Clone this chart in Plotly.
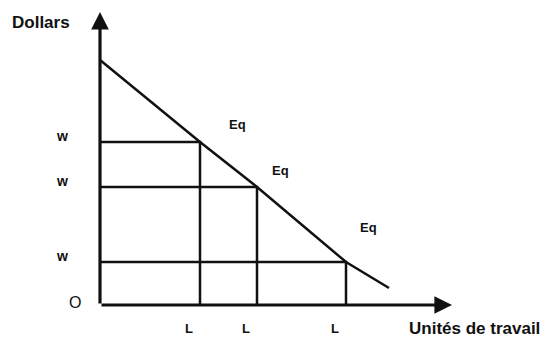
import plotly.graph_objects as go

# droite de demande de travail (unités de travail, dollars)
demand_x = [0, 10, 15.7, 24.6, 28.9]
demand_y = [24.5, 16.3, 11.8, 4.3, 1.7]

# trois équilibres : quantité L, salaire w
labour = [10, 15.7, 24.6]
wages = [16.3, 11.8, 4.3]
eq_labels = ["Eq", "Eq", "Eq"]
wage_labels = ["w", "w", "w"]
labour_labels = ["L", "L", "L"]

# décalage des étiquettes Eq par rapport au point
eq_dx = [3.7, 2.3, 2.2]
eq_dy = [1.8, 1.7, 3.5]

INK = "#111111"
FONT = "Arial, Liberation Sans, sans-serif"

fig = go.Figure()

fig.add_trace(go.Scatter(
    x=demand_x, y=demand_y, mode="lines",
    line=dict(color=INK, width=2.5), hoverinfo="skip",
))

# rectangles salaire x quantité
for L, w in zip(labour, wages):
    fig.add_trace(go.Scatter(
        x=[0, L, L], y=[w, w, 0], mode="lines",
        line=dict(color=INK, width=2.5), hoverinfo="skip",
    ))

ann = []
# axes avec flèches
ann.append(dict(x=0, y=29.3, ax=0, ay=0, xref="x", yref="y", axref="x", ayref="y",
                showarrow=True, arrowhead=2, arrowsize=1.1, arrowwidth=3.2,
                arrowcolor=INK, text=""))
ann.append(dict(x=35.2, y=0, ax=0, ay=0, xref="x", yref="y", axref="x", ayref="y",
                showarrow=True, arrowhead=2, arrowsize=1.1, arrowwidth=3.2,
                arrowcolor=INK, text=""))

for L, w, e, dx, dy in zip(labour, wages, eq_labels, eq_dx, eq_dy):
    ann.append(dict(x=L + dx, y=w + dy, text=f"<b>{e}</b>", showarrow=False,
                    font=dict(family=FONT, size=13, color=INK)))
for w, t in zip(wages, wage_labels):
    ann.append(dict(x=-3.8, y=w + 0.6, text=f"<b>{t}</b>", showarrow=False,
                    font=dict(family=FONT, size=14, color=INK)))
for L, t in zip(labour, labour_labels):
    ann.append(dict(x=L - 1.1, y=-2.3, text=f"<b>{t}</b>", showarrow=False,
                    font=dict(family=FONT, size=13, color=INK)))

ann.append(dict(x=-2.5, y=0.3, text="O", showarrow=False,
                font=dict(family=FONT, size=16, color=INK)))
ann.append(dict(x=-5.9, y=28.3, text="<b>Dollars</b>", showarrow=False,
                font=dict(family=FONT, size=17, color=INK)))
ann.append(dict(x=37.4, y=-2.3, text="<b>Unités de travail</b>", showarrow=False,
                font=dict(family=FONT, size=17, color=INK)))

fig.update_layout(
    width=549, height=338,
    margin=dict(l=0, r=0, t=0, b=0),
    plot_bgcolor="white", paper_bgcolor="white",
    showlegend=False,
    annotations=ann,
    xaxis=dict(range=[-10, 44.9], visible=False, fixedrange=True),
    yaxis=dict(range=[-3.3, 30.5], visible=False, fixedrange=True),
)

# pas de marge de page autour du graphique
fig.write_html("out.html", config={"displayModeBar": False},
               post_script="document.body.style.margin='0';")
